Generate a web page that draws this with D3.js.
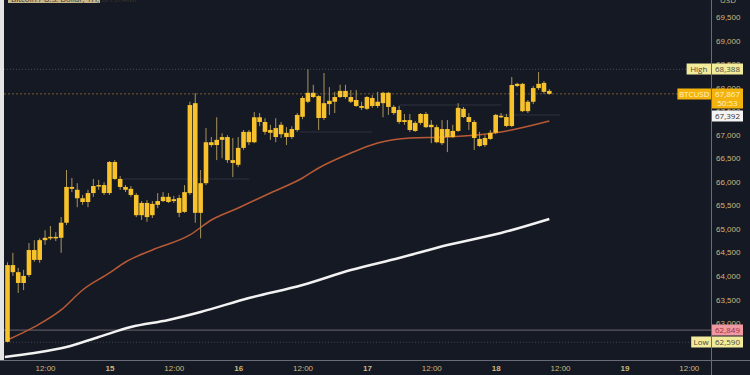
<!DOCTYPE html>
<html lang="en">
<head>
<meta charset="utf-8">
<title>BTCUSD 1H</title>
<script src="https://cdn.jsdelivr.net/npm/d3@7"></script>
<style>
  html, body { margin: 0; padding: 0; background: #151924; }
  svg { display: block; font-family: "Open Sans", sans-serif; }
  .axis .domain { display: none; }
  .axis text { fill: #cdb87e; font-size: 8px; }
  .wick { stroke: #a8955c; stroke-width: 1px; }
  .body { fill: #f7c22b; }
  .ma-fast { fill: none; stroke: #b85a35; stroke-width: 1.5px; }
  .ma-slow { fill: none; stroke: #f2f2f2; stroke-width: 2.5px; }
  .tag text { font-size: 8px; }
</style>
</head>
<body>
<div id="chart"></div>
<script>
// hourly candles, first one at 14 05:00
var startTime = new Date(2024, 4, 14, 5);

var opens = [62600,64230,64080,63850,64020,64550,64340,64760,64810,64830,
  64810,65130,65890,65830,65650,65570,65760,65910,65930,65760,
  66420,66060,65890,65850,65720,65290,65550,65290,65510,65590,
  65680,65590,65655,65360,65760,67670,65340,65970,66840,66780,
  66890,66950,66460,66360,66720,67060,66840,67370,67270,67100,
  67140,67010,67040,66950,67100,67380,67700,67890,67820,67355,
  67650,67700,67800,67930,67800,67737,67610,67550,67780,67610,
  67670,67890,67590,67525,67270,67310,67250,67250,67440,67160,
  67160,66820,67120,66950,67080,67550,67375,67270,66910,66780,
  66910,67040,67400,67375,67185,68035,68080,67500,67700,67990,
  68100,67930];
var highs = [64290,64490,64170,64130,64700,64760,64800,64970,65060,64930,
  65250,66250,66080,65970,65720,65830,66060,66040,65990,66440,
  66460,66120,65930,65910,65760,65590,65610,65590,65760,65780,
  65760,65700,65720,65930,67700,67880,66250,67140,66950,67370,
  67030,66990,66930,66950,67100,67100,67480,67460,67350,67210,
  67350,67270,67160,67180,67460,67820,68388,68060,67840,68310,
  68010,67910,68060,68060,67950,67950,67700,67820,67840,67910,
  67910,67910,67630,67610,67440,67440,67290,67460,67480,67310,
  67210,67310,67310,67210,67670,67590,67460,67310,67060,66990,
  67100,67440,67460,67440,68225,68100,68100,67737,68035,68330,
  68140,67970];
var lows = [62590,64000,63640,63700,63980,64300,64280,64660,64760,64740,
  64490,65080,65780,65460,65510,65460,65680,65830,65720,65720,
  66040,65830,65780,65680,65250,65190,65150,65230,65440,65570,
  65550,65550,65250,65340,65720,65130,64800,65930,66740,66460,
  66500,66400,66100,66310,66680,66780,66820,67180,67000,66890,
  66840,66930,66780,66910,67060,67330,67670,67780,67100,67310,
  67420,67460,67780,67760,67670,67590,67525,67525,67570,67570,
  67370,67420,67420,67230,67210,67060,67060,67210,67140,66820,
  66820,66780,66630,66930,67060,67355,67100,66675,66740,66740,
  66890,67010,67355,67160,67160,68010,67480,67460,67650,67950,
  67870,67850];
var closes = [64230,64080,63850,64000,64550,64340,64760,64810,64830,64810,
  65130,65890,65850,65650,65570,65760,65910,65930,65760,66420,
  66060,65890,65830,65720,65290,65550,65250,65530,65590,65680,
  65570,65630,65340,65780,67630,65340,65970,66840,66780,66890,
  66950,66460,66400,66720,67060,66840,67370,67270,67060,67040,
  66950,67210,66950,67120,67420,67780,67890,67800,67355,67670,
  67720,67800,67930,67800,67700,67610,67570,67800,67610,67700,
  67890,67590,67460,67270,67310,67100,67080,67440,67160,67210,
  66840,67120,66950,67080,67570,67375,67270,66930,66760,66930,
  67040,67420,67375,67185,68055,68080,67500,67700,67990,68080,
  67910,67867];

// moving averages (candle index, price)
var maFastIdx = [0,5,10,14,19,22,27,34,38,43,49,55,58,64,69,75,82,92,101];
var maFastVals = [62640,62916,63277,63701,64063,64296,64551,64870,65188,65443,
  65762,66080,66293,66611,66824,66930,66951,67058,67291];
var maSlowIdx = [-0.5,5,11,17,23,30,36,45,55,64,73,82,92,101];
var maSlowVals = [62278,62363,62490,62703,62915,63064,63234,63531,63808,64126,
  64381,64657,64912,65210];

// faint session levels: price, from index, to index
var levelPrices = [66059, 67058, 67631, 67419];
var levelFrom = [21.5, 54.5, 73, 91];
var levelTo = [45, 68, 92, 103];

var priceTicks = d3.range(63000, 70001, 500);
var timeTickHours = [7,19,31,43,55,67,79,91,103,115,127];
var timeTickLabels = ["12:00","15","12:00","16","12:00","17","12:00","18","12:00","19","12:00"];

var highPrice = 68388, lastPrice = 67867, maTagPrice = 67392,
    pinkPrice = 62849, lowPrice = 62590;

var W = 750, H = 375, plotLeft = 4, plotRight = 711, plotBottom = 360;

var svg = d3.select("#chart").append("svg")
    .attr("width", W).attr("height", H);

svg.append("rect").attr("width", W).attr("height", H).attr("fill", "#151924");

var hourAt = function(i) { return d3.timeHour.offset(startTime, i); };

var x = d3.scaleTime()
    .domain([startTime, hourAt(24)])
    .range([7.5, 7.5 + 128.75]);
var y = d3.scaleLinear().domain([63000, 69500]).range([323, 17]);

var xi = function(i) { return x(new Date(startTime.getTime() + i * 3600e3)); };

svg.append("defs").append("clipPath").attr("id", "clip")
  .append("rect").attr("x", plotLeft).attr("y", 0)
    .attr("width", plotRight - plotLeft).attr("height", plotBottom);

var plot = svg.append("g").attr("clip-path", "url(#clip)");

// faint level segments
plot.selectAll(".level").data(levelPrices).enter().append("line")
    .attr("x1", function(d, i) { return xi(levelFrom[i]); })
    .attr("x2", function(d, i) { return xi(levelTo[i]); })
    .attr("y1", function(d) { return y(d); })
    .attr("y2", function(d) { return y(d); })
    .attr("stroke", "#2f3340").attr("stroke-width", 1);

function hline(p, color, dash, w) {
  plot.append("line")
      .attr("x1", plotLeft).attr("x2", plotRight)
      .attr("y1", y(p)).attr("y2", y(p))
      .attr("stroke", color).attr("stroke-width", w || 1)
      .attr("stroke-dasharray", dash);
}
hline(highPrice, "#454955", "1,2");
hline(lastPrice, "#7a5a2c", "2,2");
hline(pinkPrice, "#6f6570", null);
hline(lowPrice, "#3d414c", "1,2");

// moving averages
var lineFn = d3.line().curve(d3.curveMonotoneX)
    .x(function(d) { return xi(d[0]); })
    .y(function(d) { return y(d[1]); });

plot.append("path").attr("class", "ma-slow")
    .datum(d3.zip(maSlowIdx, maSlowVals)).attr("d", lineFn);
plot.append("path").attr("class", "ma-fast")
    .datum(d3.zip(maFastIdx, maFastVals)).attr("d", lineFn);

// candles
var candles = opens.map(function(o, i) {
  return { t: hourAt(i), o: o, h: highs[i], l: lows[i], c: closes[i] };
});
var bw = 4.6;
var cg = plot.selectAll(".candle").data(candles).enter().append("g");
cg.append("line").attr("class", "wick")
    .attr("x1", function(d) { return x(d.t); })
    .attr("x2", function(d) { return x(d.t); })
    .attr("y1", function(d) { return y(d.h); })
    .attr("y2", function(d) { return y(d.l); });
cg.append("rect").attr("class", "body")
    .attr("x", function(d) { return x(d.t) - bw / 2; })
    .attr("width", bw)
    .attr("y", function(d) { return y(Math.max(d.o, d.c)); })
    .attr("height", function(d) { return Math.max(1.5, Math.abs(y(d.o) - y(d.c))); });

// axes frame
svg.append("line").attr("x1", plotRight + 0.5).attr("x2", plotRight + 0.5)
    .attr("y1", 0).attr("y2", H).attr("stroke", "#6a6d77");
svg.append("line").attr("x1", 0).attr("x2", W)
    .attr("y1", plotBottom + 0.5).attr("y2", plotBottom + 0.5).attr("stroke", "#6a6d77");

svg.append("g").attr("class", "axis")
    .attr("transform", "translate(" + plotRight + ",0)")
    .call(d3.axisRight(y).tickValues(priceTicks).tickSize(0).tickPadding(5)
      .tickFormat(d3.format(",")));

svg.append("text").attr("x", 720).attr("y", 3)
    .attr("fill", "#cdb87e").attr("font-size", 8).text("USD");

svg.append("g").attr("class", "axis")
    .attr("transform", "translate(0," + plotBottom + ")")
    .call(d3.axisBottom(x).tickValues(timeTickHours.map(hourAt)).tickSize(0).tickPadding(5)
      .tickFormat(function(d, i) { return timeTickLabels[i]; }))
  .selectAll("text")
    .attr("font-weight", function(d, i) { return timeTickLabels[i].length < 3 ? "bold" : null; });

// price tags on the right scale
function tag(p, label, bg, fg, extra) {
  var g = svg.append("g").attr("class", "tag");
  var yy = Math.round(y(p));
  var h = extra ? 20 : 11;
  if (label) {
    var lw = label.length * 4.6 + 6;
    g.append("rect").attr("x", plotRight - lw).attr("y", yy - 5.5)
        .attr("width", lw).attr("height", 11).attr("fill", bg);
    g.append("text").attr("x", plotRight - lw / 2).attr("y", yy + 3)
        .attr("text-anchor", "middle").attr("fill", fg).text(label);
  }
  g.append("rect").attr("x", plotRight + 1).attr("y", yy - 5.5)
      .attr("width", 31).attr("height", h).attr("fill", bg);
  g.append("text").attr("x", plotRight + 16.5).attr("y", yy + 3)
      .attr("text-anchor", "middle").attr("fill", fg).text(d3.format(",")(p));
  if (extra) {
    g.append("text").attr("x", plotRight + 16.5).attr("y", yy + 12)
        .attr("text-anchor", "middle").attr("fill", fg).text(extra);
  }
}
tag(highPrice, "High", "#f3eb9c", "#4a4a3a");
tag(lastPrice, "BTCUSD", "#f4b30c", "#fff4c8", "50:53");
tag(maTagPrice, null, "#f4f4f4", "#333");
tag(pinkPrice, null, "#ef99a3", "#a0303e");
tag(lowPrice, "Low", "#f3eb9c", "#4a4a3a");

// title, mostly cut off at the top edge
svg.append("rect").attr("x", 8).attr("y", -8).attr("width", 92).attr("height", 11)
    .attr("fill", "#c9b68a");
svg.append("text").attr("x", 11).attr("y", 1.5).attr("font-size", 8)
    .attr("fill", "#3a3526").text("Bitcoin / U.S. Dollar, 1H, BITSTAMP");

// light border strip on the left edge
svg.append("rect").attr("x", 0).attr("y", 0).attr("width", 4).attr("height", plotBottom)
    .attr("fill", "#e4e4e4");
</script>
</body>
</html>
